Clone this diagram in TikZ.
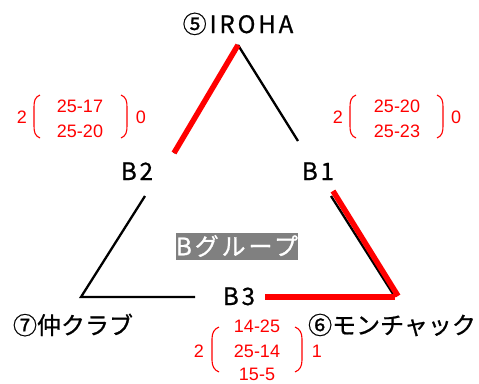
\documentclass[tikz,border=0pt]{standalone}
\usepackage{fontspec}
\setmainfont{Noto Sans CJK JP}[FakeBold=0.8]
\newfontfamily\jpw{Noto Sans CJK JP}[LetterSpace=12,FakeBold=0.8]
\newfontfamily\numf{Liberation Sans}
\begin{document}
\begin{tikzpicture}[x=1pt,y=-1pt,
  lbl/.style={font=\fontsize{24}{26}\selectfont, inner sep=0pt},
  latl/.style={font=\jpw\fontsize{24}{26}\selectfont, inner sep=0pt, anchor=base},
  score/.style={font=\numf\fontsize{18}{20}\selectfont, text=red, inner sep=0pt, anchor=base},
  blk/.style={line width=2.3pt, black},
  win/.style={line width=5.5pt, red},
  brk/.style={red, line width=1.1pt}]
\useasboundingbox (0,0) rectangle (479,383);
% labels
\node[latl] (iroha) at (238,33) {⑤IROHA};
\node[latl] (b2) at (137,180) {B2};
\node[latl] (b1) at (318,180) {B1};
\node[latl] (b3) at (239,305) {B3};
\node[lbl] (naka) at (73,325) {⑦仲クラブ};
\node[lbl] (mon) at (392,325) {⑥モンチャック};
\node[lbl, fill=black!50, text=white, minimum width=121pt, minimum height=27pt] (grp) at (237,246) {\jpw Bグループ};
% coordinates
\coordinate (apex) at (238,45);
\coordinate (b2t) at (174,153);
\coordinate (b1t) at (298,141);
\coordinate (b2b) at (145,196);
\coordinate (bl) at (81,297);
\coordinate (b3l) at (195,297);
\coordinate (b3r) at (265,297);
\coordinate (br) at (395,297);
\coordinate (b1b) at (331,196);
\coordinate (b1bw) at (333,191);
\coordinate (brw) at (398,296);
% black lines
\draw[blk] (apex) -- (b2t);
\draw[blk] (apex) -- (b1t);
\draw[blk] (b2b) -- (bl) -- (b3l);
\draw[blk] (b1b) -- (br);
% red winner lines
\draw[win] (apex) -- (b2t);
\draw[win] (b3r) -- (br);
\draw[win] (b1bw) -- (brw);
% score B2 vs IROHA
\node[score] (s1a) at (80,112) {25-17};
\node[score] (s1b) at (80,137) {25-20};
\node[score] (s1l) at (22,123) {2};
\node[score] (s1r) at (141,123) {0};
\draw[brk] (40,95) .. controls (35,97) and (34,101) .. (34,107) -- (34,126) .. controls (34,132) and (35,136) .. (40,138);
\draw[brk] (121,95) .. controls (126,97) and (127,101) .. (127,107) -- (127,126) .. controls (127,132) and (126,136) .. (121,138);
% score B1 vs IROHA
\node[score] (s2a) at (397,112) {25-20};
\node[score] (s2b) at (397,137) {25-23};
\node[score] (s2l) at (338,123) {2};
\node[score] (s2r) at (456,123) {0};
\draw[brk] (356,95) .. controls (351,97) and (350,101) .. (350,107) -- (350,126) .. controls (350,132) and (351,136) .. (356,138);
\draw[brk] (437,95) .. controls (442,97) and (443,101) .. (443,107) -- (443,126) .. controls (443,132) and (442,136) .. (437,138);
% score B3
\node[score] (s3a) at (257,332) {14-25};
\node[score] (s3b) at (257,357) {25-14};
\node[score] (s3c) at (257,380) {15-5};
\node[score] (s3l) at (199,357) {2};
\node[score] (s3r) at (317,357) {1};
\draw[brk] (219,327) .. controls (214,329) and (212,333) .. (212,339) -- (212,360) .. controls (212,366) and (214,370) .. (219,372);
\draw[brk] (295,327) .. controls (300,329) and (302,333) .. (302,339) -- (302,360) .. controls (302,366) and (300,370) .. (295,372);
\end{tikzpicture}
\end{document}
